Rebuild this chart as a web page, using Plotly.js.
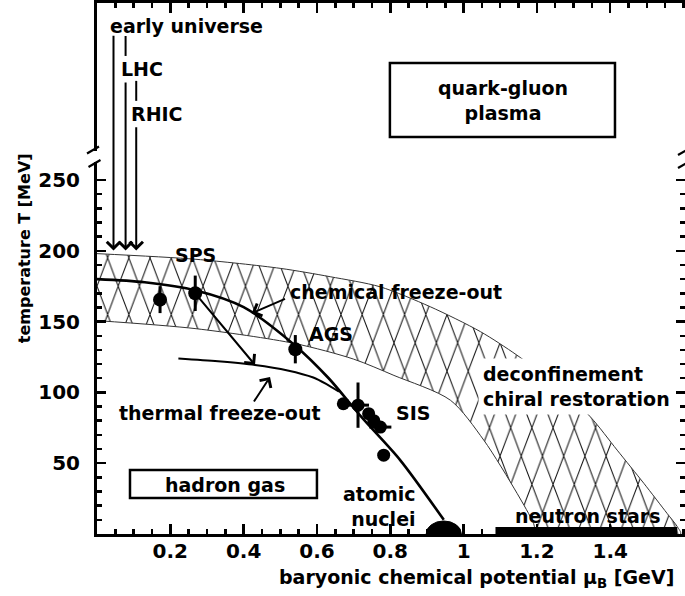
<!DOCTYPE html>
<html><head><meta charset="utf-8">
<script src="https://cdn.plot.ly/plotly-3.0.1.min.js"></script>
<style>html,body{margin:0;padding:0;background:#fff}#chart{width:685px;height:596px}</style>
</head><body><div id="chart"></div>
<script>
// ---- data (mu_B in GeV, T in MeV) ----
const bandOuterMu = [0, 0.27, 0.5, 0.636, 0.772, 0.909, 1.046, 1.145, 1.25, 1.346, 1.419, 1.492, 1.555, 1.583, 1.592];
const bandOuterT  = [198, 194, 187.6, 181.7, 174.6, 160.5, 142.9, 126.4, 106, 82.7, 59.2, 35.7, 14.6, 5.2, 0];
const bandInnerMu = [0, 0.27, 0.54, 0.70, 0.81, 0.964, 1.055, 1.146, 1.191, 1.2];
const bandInnerT  = [150.7, 145, 134.5, 123.5, 112, 94.5, 66.3, 28.7, 7.5, 0];

const chemMu = [0, 0.13, 0.27, 0.40, 0.54, 0.632, 0.72, 0.827, 0.946];
const chemT  = [180, 177.8, 172, 160.2, 133.2, 110, 83, 52.2, 10];

const thermMu = [0.222, 0.33, 0.431, 0.52, 0.59, 0.625, 0.66];
const thermT  = [124, 122, 119.4, 115.5, 110.5, 106, 100.5];

const expMu  = [0.172, 0.268, 0.541];
const expT   = [165.5, 170, 130.5];
const expErr = [9.5, 12.5, 10];

const sisMu    = [0.672, 0.712, 0.741, 0.755, 0.773, 0.782];
const sisT     = [92, 91, 85, 80, 75.5, 55.7];
const sisErrT  = [0, 16, 0, 0, 0, 0];
const sisErrMu = [0, 0.03, 0, 0, 0.03, 0];

const nucleiMu = [0.946];
const nucleiT  = [0];

const nstarMu = [1.087, 1.583];
const nstarT  = [0, 0];

// vertical arrows: early universe, LHC, RHIC
const srcMu    = [0.045, 0.078, 0.107];
const srcTailT = [353, 320, 288.3];
const srcHeadT = [200.2, 200.2, 200.2];
const segMu    = [0.078, 0.107];
const segTopT  = [351.7, 320];
const segBotT  = [337.6, 305.9];

const xTickVals = [0.2, 0.4, 0.6, 0.8, 1.0, 1.2, 1.4];
const xTickText = ['0.2', '0.4', '0.6', '0.8', '1', '1.2', '1.4'];
const yTickVals = [50, 100, 150, 200, 250];
const yMinorVals = [10,20,30,40,60,70,80,90,110,120,130,140,160,170,180,190,210,220,230,240];

// ---- styling ----
const FONT = 'DejaVu Sans';
const lab = (size) => ({family: FONT, size: size, color: '#000', weight: 'bold'});

const bandMu = bandOuterMu.concat(bandInnerMu.slice().reverse());
const bandT  = bandOuterT.concat(bandInnerT.slice().reverse());

const traces = [
  {x: bandMu, y: bandT, mode: 'lines', fill: 'toself',
   fillcolor: 'rgba(0,0,0,0)',
   fillpattern: {shape: 'x', size: 15, solidity: 0.1, fgcolor: '#111', bgcolor: 'rgba(0,0,0,0)'},
   line: {color: '#333', width: 1, shape: 'spline', smoothing: 0.8}, hoverinfo: 'skip'},
  {x: chemMu, y: chemT, mode: 'lines', line: {color: '#000', width: 2.6, shape: 'spline', smoothing: 0.8}},
  {x: thermMu, y: thermT, mode: 'lines', line: {color: '#000', width: 2, shape: 'spline', smoothing: 0.8}},
  {x: expMu, y: expT, mode: 'markers', marker: {color: '#000', size: 14},
   error_y: {type: 'data', array: expErr, color: '#000', thickness: 3, width: 0}},
  {x: sisMu, y: sisT, mode: 'markers', marker: {color: '#000', size: 13},
   error_y: {type: 'data', array: sisErrT, color: '#000', thickness: 3, width: 0},
   error_x: {type: 'data', array: sisErrMu, color: '#000', thickness: 3, width: 0}},
  {x: nstarMu, y: nstarT, mode: 'lines', line: {color: '#000', width: 14}},
];
traces.forEach(t => { t.showlegend = false; t.cliponaxis = true; });

const annotations = [];
function txt(x, y, text, size, extra) {
  annotations.push(Object.assign({x: x, y: y, xref: 'x', yref: 'y', text: text,
    showarrow: false, font: lab(size)}, extra || {}));
}
txt(0.2428, 358.8, 'early universe', 19);
txt(0.1214, 328.4, 'LHC', 19);
txt(0.165, 296.6, 'RHIC', 19);
txt(1.1075, 305.8, 'quark-gluon<br>plasma', 19);
txt(0.27, 197, 'SPS', 19);
txt(0.638, 141.2, 'AGS', 19);
txt(0.521, 170.9, 'chemical freeze-out', 19, {xanchor: 'left'});
txt(0.3355, 85.5, 'thermal freeze-out', 19);
txt(0.862, 85.5, 'SIS', 19);
txt(0.349, 34.6, 'hadron gas', 19);
txt(0.8756, 19.4, 'atomic<br>nuclei', 19, {xanchor: 'right', align: 'right'});
txt(1.337, 12.7, 'neutron stars', 19);
txt(1.039, 104.5, 'deconfinement<br>chiral restoration', 19,
    {xanchor: 'left', align: 'left', bgcolor: '#fff', borderpad: 4});

function arrow(x, y, ax, ay) {
  annotations.push({x: x, y: y, ax: ax, ay: ay, xref: 'x', yref: 'y', axref: 'x', ayref: 'y',
    text: '', showarrow: true, arrowhead: 4, arrowsize: 1.3, arrowwidth: 2, arrowcolor: '#000', standoff: 0});
}
for (let i = 0; i < srcMu.length; i++) arrow(srcMu[i], srcHeadT[i], srcMu[i], srcTailT[i]);
arrow(0.422, 155.9, 0.517, 166.5);
arrow(0.472, 110.9, 0.4255, 92.5);
arrow(0.431, 119.4, expMu[1], expT[1]);

// axis titles
annotations.push({xref: 'paper', yref: 'paper', x: 0.645, y: -0.083, xanchor: 'center', yanchor: 'middle',
  showarrow: false, text: 'baryonic chemical potential \u03bc<sub>B</sub> [GeV]', font: lab(19)});
annotations.push({xref: 'paper', yref: 'paper', x: -0.123, y: 0.5376, xanchor: 'center', yanchor: 'middle',
  showarrow: false, textangle: -90, text: 'temperature T [MeV]', font: lab(16)});

const shapes = [];
for (let i = 0; i < segMu.length; i++) {
  shapes.push({type: 'line', xref: 'x', yref: 'y', x0: segMu[i], x1: segMu[i], y0: segBotT[i], y1: segTopT[i],
    line: {color: '#000', width: 2}});
}
// nuclei blob
shapes.push({type: 'circle', xref: 'x', yref: 'y', x0: nucleiMu[0] - 0.048, x1: nucleiMu[0] + 0.048,
  y0: nucleiT[0] - 9.2, y1: nucleiT[0] + 9.2, fillcolor: '#000', line: {color: '#000', width: 1}, layer: 'below'});
// label boxes
shapes.push({type: 'rect', xref: 'x', yref: 'y', x0: 0.799, x1: 1.413, y0: 280.4, y1: 332.6,
  line: {color: '#000', width: 2.5}});
shapes.push({type: 'rect', xref: 'x', yref: 'y', x0: 0.09, x1: 0.6, y0: 25.4, y1: 45.2,
  line: {color: '#000', width: 2.5}});
// axis breaks (pixel -> paper helpers for decoration only)
const W = 588, H = 531, L = 97, T0 = 3;
const px = (p) => (p - L) / W, py = (p) => (T0 + H - p) / H;
[[90, 103], [678, 692]].forEach(([a, b]) => {
  shapes.push({type: 'rect', xref: 'paper', yref: 'paper', x0: px(a), x1: px(b), y0: py(162), y1: py(151),
    fillcolor: '#fff', line: {width: 0}, layer: 'above'});
});
[[87, 153.5, 99, 146.5], [88.5, 167, 100.5, 160], [678, 155, 690, 148], [678, 168, 690, 161]].forEach(s => {
  shapes.push({type: 'line', xref: 'paper', yref: 'paper', x0: px(s[0]), y0: py(s[1]), x1: px(s[2]), y1: py(s[3]),
    line: {color: '#000', width: 2.2}, layer: 'above'});
});

const tickFont = {family: FONT, size: 20, color: '#000', weight: 'bold'};
const layout = {
  width: 685, height: 596,
  margin: {l: L, r: 0, t: T0, b: 62},
  paper_bgcolor: '#fff', plot_bgcolor: '#fff',
  showlegend: false,
  xaxis: {range: [0, 1.604], showgrid: false, zeroline: false, showline: true, linewidth: 3, linecolor: '#000',
    mirror: 'ticks', ticks: 'inside', ticklen: 10, tickwidth: 2.5, tickcolor: '#000',
    tickmode: 'array', tickvals: xTickVals, ticktext: xTickText, tickfont: tickFont, ticklabelstandoff: -3,
    minor: {ticks: 'inside', dtick: 0.05, tick0: 0, ticklen: 5, tickwidth: 2.5, tickcolor: '#000', showgrid: false}},
  yaxis: {range: [0, 375], showgrid: false, zeroline: false, showline: true, linewidth: 3, linecolor: '#000',
    mirror: 'ticks', ticks: 'inside', ticklen: 9, tickwidth: 2.5, tickcolor: '#000',
    tickmode: 'array', tickvals: yTickVals, tickfont: tickFont, ticklabelstandoff: 10,
    minor: {ticks: 'inside', tickmode: 'array', tickvals: yMinorVals, ticklen: 5, tickwidth: 2.5, tickcolor: '#000', showgrid: false}},
  annotations: annotations,
  shapes: shapes
};

function stretchPattern(gd) {
  gd.querySelectorAll('pattern').forEach(p => p.setAttribute('patternTransform', 'scale(1,2.67)'));
}
Plotly.newPlot('chart', traces, layout, {displayModeBar: false, staticPlot: true}).then(gd => {
  stretchPattern(gd);
  gd.on('plotly_afterplot', () => stretchPattern(gd));
});
</script>
</body></html>
